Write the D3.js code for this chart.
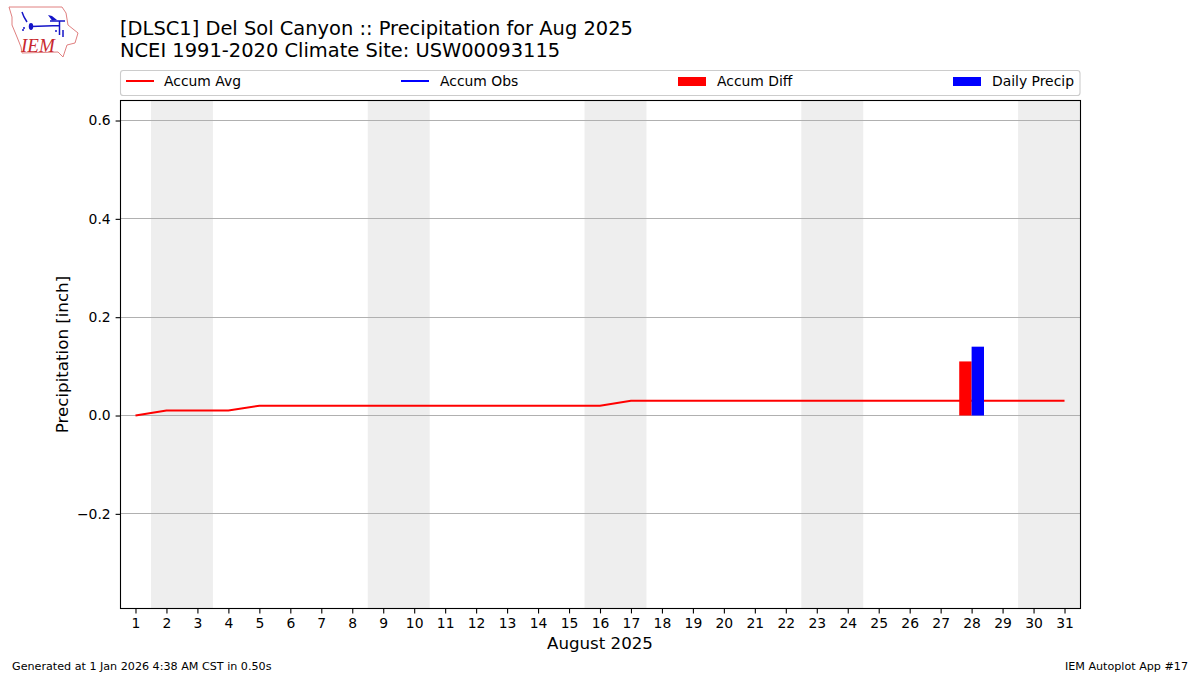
<!DOCTYPE html>
<html><head><meta charset="utf-8">
<script src="https://cdn.jsdelivr.net/npm/d3@7"></script>
<style>
html,body{margin:0;padding:0;background:#fff;overflow:hidden}
svg{display:block}
text{font-family:"DejaVu Sans",sans-serif;fill:#000}
</style></head><body><svg id="c" width="1200" height="675"></svg>
<script>
const days = d3.range(1, 32);
const accumAvg = [0,0.01,0.01,0.01,0.02,0.02,0.02,0.02,0.02,0.02,0.02,0.02,0.02,0.02,0.02,0.02,0.03,0.03,0.03,0.03,0.03,0.03,0.03,0.03,0.03,0.03,0.03,0.03,0.03,0.03,0.03];
const accumObs = [];
const diffDays = [28];
const accumDiff = [0.11];
const precipDays = [28];
const dailyPrecip = [0.14];
const weekendSpans = [[1.5,3.5],[8.5,10.5],[15.5,17.5],[22.5,24.5],[29.5,31.5]];
const yTicks = [-0.2,0,0.2,0.4,0.6];
const legendItems = [
  {label:"Accum Avg",color:"#ff0000",kind:"line"},
  {label:"Accum Obs",color:"#0000ff",kind:"line"},
  {label:"Accum Diff",color:"#ff0000",kind:"bar"},
  {label:"Daily Precip",color:"#0000ff",kind:"bar"}
];
const titleLines = ["[DLSC1] Del Sol Canyon :: Precipitation for Aug 2025","NCEI 1991-2020 Climate Site: USW00093115"];

const svg = d3.select("#c");
const L=120.5,R=1080.5,T=100.5,B=608.5;
const x = d3.scaleLinear().domain([0.5,31.5]).range([120,1080]);
const y = d3.scaleLinear().domain([-0.3925,0.6407]).range([B,T]);
const barW = x(0.4)-x(0);

// weekend shading
svg.append("g").selectAll("rect").data(weekendSpans).join("rect")
  .attr("x",d=>x(d[0])).attr("width",d=>x(d[1])-x(d[0]))
  .attr("y",T).attr("height",B-T).attr("fill","#eeeeee");

// grid
svg.append("g").selectAll("line").data(yTicks).join("line")
  .attr("x1",L).attr("x2",R)
  .attr("y1",d=>Math.floor(y(d)+0.01)+0.5).attr("y2",d=>Math.floor(y(d)+0.01)+0.5)
  .attr("stroke","#b0b0b0").attr("stroke-width",1.1);

// avg line + obs line
const line = d3.line().x((d,i)=>x(days[i])).y(d=>y(d));
svg.append("path").datum(accumAvg).attr("d",line).attr("fill","none").attr("stroke","#ff0000").attr("stroke-width",2);
svg.append("path").datum(accumObs).attr("d",line).attr("fill","none").attr("stroke","#0000ff").attr("stroke-width",2);

// bars
svg.append("g").selectAll("rect").data(accumDiff).join("rect")
  .attr("x",(d,i)=>x(diffDays[i])-barW).attr("width",barW)
  .attr("y",d=>y(d)).attr("height",d=>y(0)-y(d)).attr("fill","#ff0000");
svg.append("g").selectAll("rect").data(dailyPrecip).join("rect")
  .attr("x",(d,i)=>x(precipDays[i])).attr("width",barW)
  .attr("y",d=>y(d)).attr("height",d=>y(0)-y(d)).attr("fill","#0000ff");

// axes
const xAxis = d3.axisBottom(x).tickValues(days).tickFormat(d3.format("d")).tickSize(4.9).tickPadding(4.9);
const yAxis = d3.axisLeft(y).tickValues(yTicks).tickFormat(d=>d3.format(".1f")(d).replace("-","\u2212")).tickSize(4.9).tickPadding(4.9);
const gx = svg.append("g").attr("transform",`translate(0,${B})`).call(xAxis);
const gy = svg.append("g").attr("transform",`translate(${L},0)`).call(yAxis);
[gx,gy].forEach(g=>{
  g.select(".domain").remove();
  g.selectAll("line").attr("stroke","#000").attr("stroke-width",1.1);
  g.selectAll("text").attr("font-size",13.9).attr("font-family",'"DejaVu Sans",sans-serif');
});

// frame
svg.append("rect").attr("x",L).attr("y",T).attr("width",R-L).attr("height",B-T)
  .attr("fill","none").attr("stroke","#000").attr("stroke-width",1.1);

// axis titles
svg.append("text").attr("x",600).attr("y",649).attr("text-anchor","middle").attr("font-size",16.67).text("August 2025");
svg.append("text").attr("transform","translate(67.5,354.5) rotate(-90)").attr("text-anchor","middle").attr("font-size",16.67).text("Precipitation [inch]");

// title
svg.append("g").selectAll("text").data(titleLines).join("text")
  .attr("x",120).attr("y",(d,i)=>35+i*22).attr("font-size",19.45).text(d=>d);

// legend
svg.append("rect").attr("x",120.5).attr("y",70.5).attr("width",959.5).attr("height",25).attr("rx",2.8)
  .attr("fill","#fff").attr("stroke","#cccccc").attr("stroke-width",1.1);
const legendX = [126,401,678,953];
const legendTextDx = [38,39,39,39];
const lg = svg.append("g").selectAll("g").data(legendItems).join("g")
  .attr("transform",(d,i)=>`translate(${legendX[i]},0)`);
lg.filter(d=>d.kind==="line").append("line").attr("x1",0).attr("x2",28).attr("y1",81).attr("y2",81)
  .attr("stroke",d=>d.color).attr("stroke-width",2);
lg.filter(d=>d.kind==="bar").append("rect").attr("x",0).attr("width",28).attr("y",77).attr("height",9)
  .attr("fill",d=>d.color);
lg.append("text").attr("x",(d,i)=>legendTextDx[i]).attr("y",86).attr("font-size",13.9).text(d=>d.label);

// footer
svg.append("text").attr("x",12).attr("y",670).attr("font-size",11.15).text("Generated at 1 Jan 2026 4:38 AM CST in 0.50s");
svg.append("text").attr("x",1188).attr("y",670).attr("text-anchor","end").attr("font-size",11.15).text("IEM Autoplot App #17");

// logo
const logo = svg.append("g");
logo.append("path").attr("d","M9,7 L62,7 L66,13 L68,25 L78,33 L75,43 L67,45 L63,57 L58,52 L22,53 L21,47 L17,37 L12,25 L12,17 Z")
  .attr("fill","#fff").attr("stroke","#e08080").attr("stroke-width",1);
logo.append("path").attr("d","M31,26.5 L60,25.5 M50,21 L65,21 M59.5,21 L59.5,35 M63,30 L63,37 M22,12 L24,17 L27,22")
  .attr("fill","none").attr("stroke","#1414c8").attr("stroke-width",1.5);
logo.append("ellipse").attr("cx",31).attr("cy",26.5).attr("rx",2.2).attr("ry",3.4).attr("fill","#1414c8");
logo.append("path").attr("d","M48,15 L52,16 L57,20 L52,20.5 Z").attr("fill","#1414c8");
logo.append("circle").attr("cx",24).attr("cy",28).attr("r",1).attr("fill","#1414c8");
logo.append("circle").attr("cx",23).attr("cy",30).attr("r",1).attr("fill","#1414c8");
logo.append("circle").attr("cx",56).attr("cy",31).attr("r",1).attr("fill","#1414c8");
logo.append("text").attr("x",21).attr("y",52).attr("font-size",19).attr("font-style","italic")
  .style("font-family",'"Liberation Serif",serif').style("fill","#c8282d").text("IEM");
</script></body></html>
